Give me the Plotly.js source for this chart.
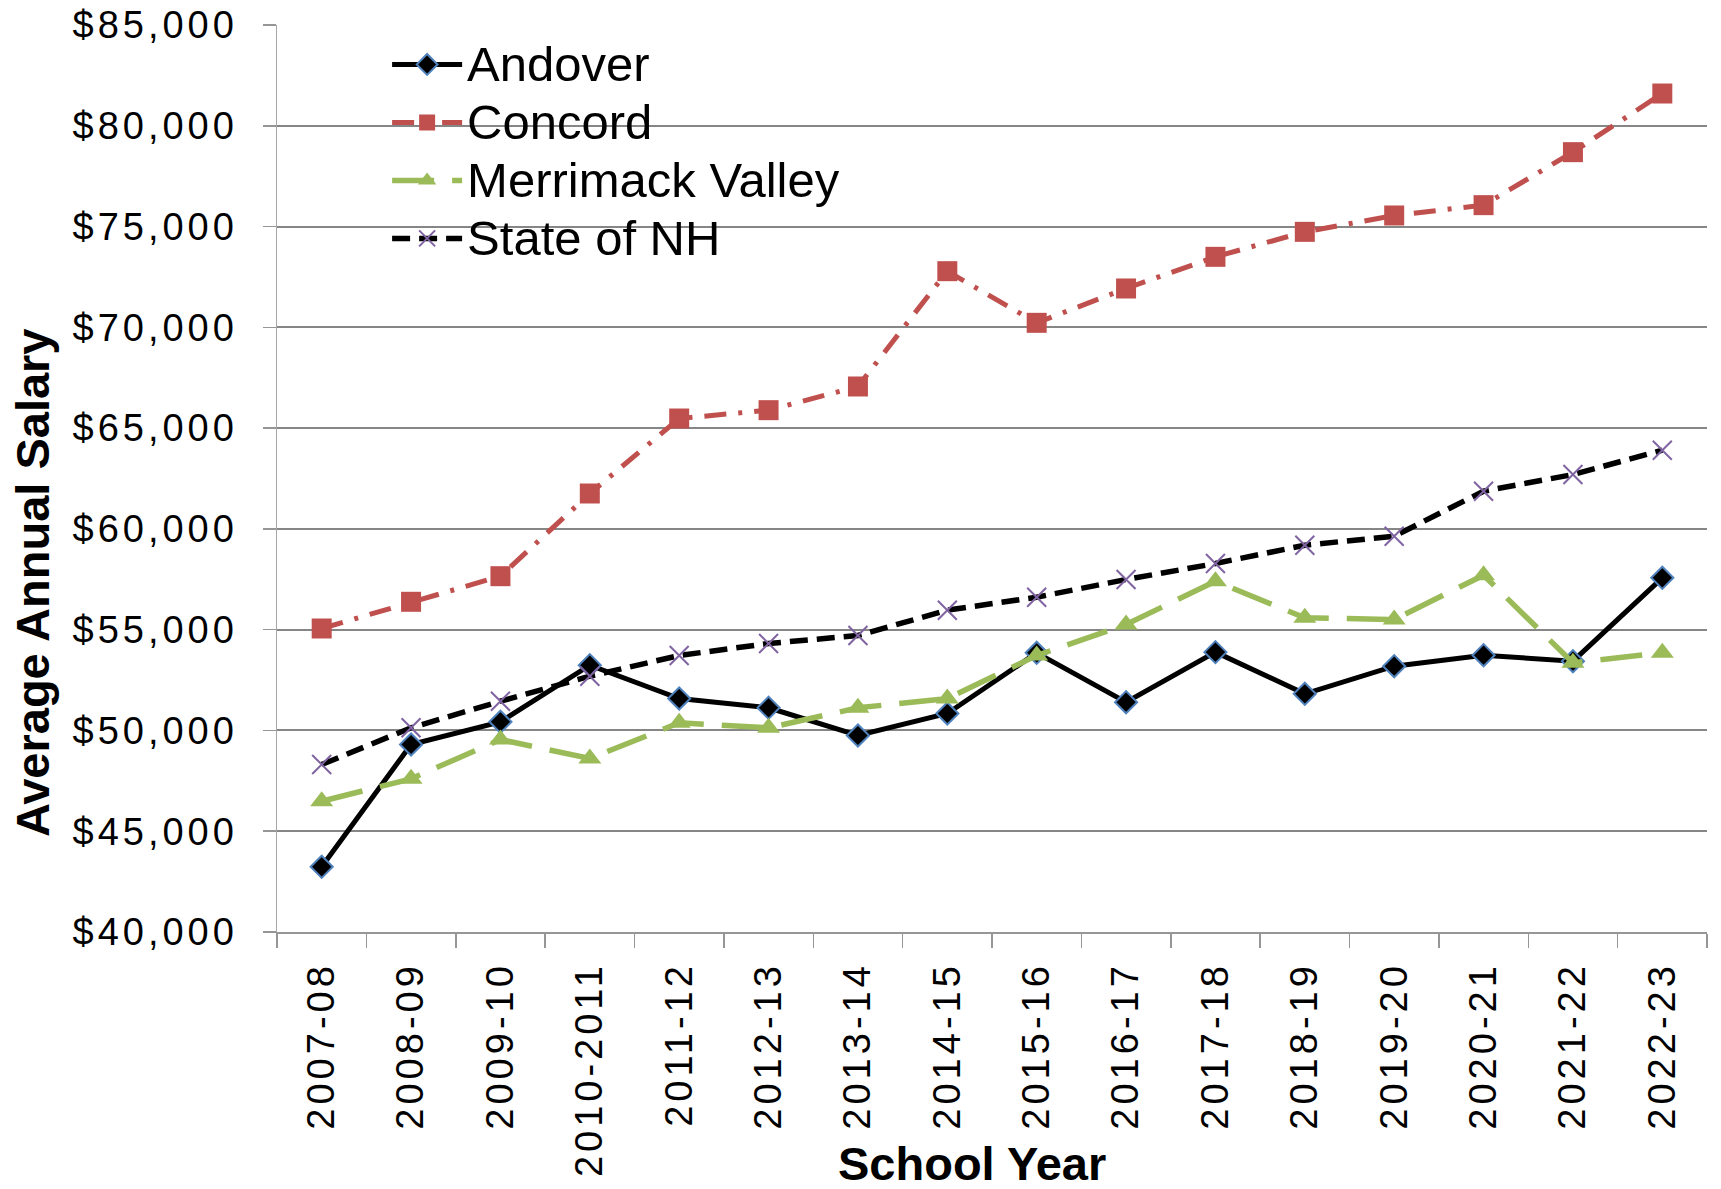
<!DOCTYPE html>
<html>
<head>
<meta charset="utf-8">
<script src="https://cdn.plot.ly/plotly-3.0.1.min.js"></script>
<style>
  html, body { margin: 0; padding: 0; background: #fff; }
  #chart { width: 1721px; height: 1189px; }
  .xtick text, .ytick text { letter-spacing: 4px; }
  .legendtext { font-size: 49px !important; }
</style>
</head>
<body>
<div id="chart"></div>
<script>
const schoolYears = ["2007-08","2008-09","2009-10","2010-2011","2011-12","2012-13","2013-14","2014-15","2015-16","2016-17","2017-18","2018-19","2019-20","2020-21","2021-22","2022-23"];
const andover = [43235,49303,50429,53237,51585,51123,49749,50841,53852,51403,53885,51818,53188,53733,53436,57573];
const concord = [55058,56383,57653,61756,65477,65890,67065,72786,70224,71927,73498,74738,75549,76062,78691,81601];
const merrimackValley = [46489,47600,49551,48608,50379,50131,51123,51585,53718,55256,57406,55589,55504,57703,53356,53852];
const stateOfNH = [48310,50131,51451,52691,53718,54313,54710,55967,56612,57490,58283,59190,59637,61870,62698,63904];
const yTicks = [40000,45000,50000,55000,60000,65000,70000,75000,80000,85000];

const FONT = "Liberation Sans, Arial, sans-serif";

const traces = [
  {
    name: "Andover", x: schoolYears, y: andover, type: "scatter", mode: "lines+markers",
    line: {color: "#000000", width: 5},
    marker: {symbol: "diamond", size: 17, color: "#000000", line: {color: "#4F81BD", width: 2}}
  },
  {
    name: "Concord", x: schoolYears, y: concord, type: "scatter", mode: "lines+markers",
    line: {color: "#C0504D", width: 5, dash: "22px,12px,4px,12px"},
    marker: {symbol: "square", size: 20, color: "#C0504D"}
  },
  {
    name: "Merrimack Valley", x: schoolYears, y: merrimackValley, type: "scatter", mode: "lines+markers",
    line: {color: "#9BBB59", width: 5.5, dash: "42px,18px"},
    marker: {symbol: "triangle-up", size: 20, color: "#9BBB59"}
  },
  {
    name: "State of NH", x: schoolYears, y: stateOfNH, type: "scatter", mode: "lines+markers",
    line: {color: "#000000", width: 5.5, dash: "18px,9px"},
    marker: {symbol: "x-thin", size: 19, color: "#8064A2", line: {color: "#8064A2", width: 2}}
  }
];

const layout = {
  width: 1721, height: 1189,
  margin: {l: 277, r: 14, t: 25, b: 257, pad: 0},
  paper_bgcolor: "#ffffff", plot_bgcolor: "#ffffff",
  font: {family: FONT, color: "#000000"},
  showlegend: true,
  legend: {
    x: 0.077, y: 0.994, xanchor: "left", yanchor: "top",
    bgcolor: "rgba(0,0,0,0)", borderwidth: 0,
    font: {family: FONT, size: 42.3, color: "#000000"},
    itemwidth: 70
  },
  xaxis: {
    type: "category",
    tickson: "boundaries",
    ticks: "outside", ticklen: 14, tickwidth: 1.5, tickcolor: "#969696",
    tickangle: -90,
    tickfont: {family: FONT, size: 38, color: "#000000"},
    ticklabelstandoff: 13,
    showgrid: false, zeroline: false,
    showline: true, linecolor: "#969696", linewidth: 2,
    range: [-0.5, schoolYears.length - 0.5],
    fixedrange: true
  },
  yaxis: {
    range: [40000, 85000],
    tickvals: yTicks,
    tickformat: "$,d",
    ticks: "outside", ticklen: 13, tickwidth: 1.5, tickcolor: "#969696",
    tickfont: {family: FONT, size: 38, color: "#000000"},
    ticklabelstandoff: 17,
    showgrid: true, gridcolor: "#868686", gridwidth: 2,
    zeroline: false,
    showline: true, linecolor: "#A6A6A6", linewidth: 1.5,
    fixedrange: true
  },
  annotations: [
    {
      text: "<b>Average Annual Salary</b>", xref: "paper", yref: "paper",
      x: -0.171, y: 0.3853, xanchor: "center", yanchor: "middle",
      textangle: -90, showarrow: false,
      font: {family: FONT, size: 47, color: "#000000"}
    },
    {
      text: "<b>School Year</b>", xref: "paper", yref: "paper",
      x: 0.486, y: -0.2547, xanchor: "center", yanchor: "middle",
      showarrow: false,
      font: {family: FONT, size: 47, color: "#000000"}
    }
  ]
};

Plotly.newPlot("chart", traces, layout, {staticPlot: true, displayModeBar: false});
</script>
</body>
</html>
